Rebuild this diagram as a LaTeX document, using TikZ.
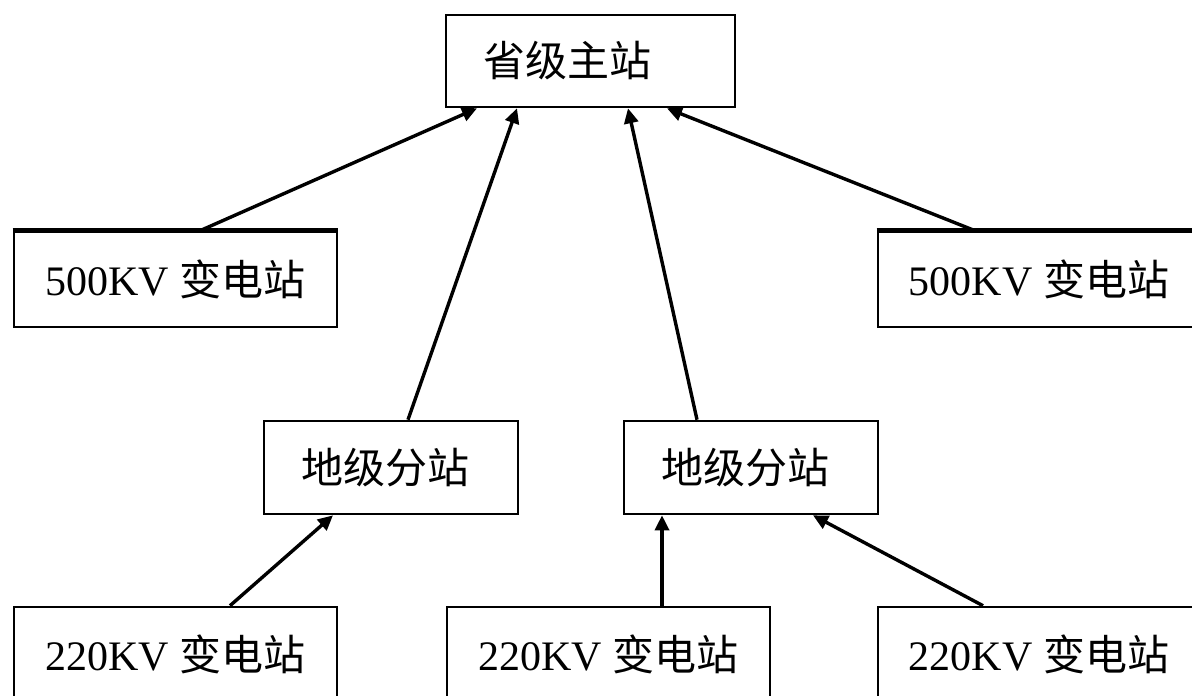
\documentclass[tikz,border=0pt]{standalone}
\usepackage{fontspec}
\setmainfont{Liberation Serif}
\newfontfamily\cjk{Noto Sans CJK SC}
\usetikzlibrary{arrows.meta}
\begin{document}
\begin{tikzpicture}[x=0.5pt,y=-0.5pt,
  box/.style={draw, line width=1.3pt, inner sep=0pt, font=\fontsize{21pt}{24pt}\selectfont},
  leftbox/.style={box, inner xsep=18.5pt, text width=#1, align=left},
  topedge/.style={line width=2.6pt},
  conn/.style={line width=1.7pt, -{Triangle[length=7.5pt,width=7pt]}}]
\useasboundingbox (0,0) rectangle (1192,695);
\fill[white] (0,0) rectangle (1192,695);
% nodes
\node[leftbox=107.5pt, minimum height=46pt] (top) at (590.5,61) {\cjk 省级主站};
\node[box, minimum width=161.5pt, minimum height=47.5pt] (l500) at (175.5,279.5) {500KV {\cjk 变电站}};
\node[box, minimum width=161pt, minimum height=47.5pt] (r500) at (1039,279.5) {500KV {\cjk 变电站}};
\node[leftbox=90pt, minimum height=46.5pt] (dl) at (391,467.5) {\cjk 地级分站};
\node[leftbox=90pt, minimum height=46.5pt] (dr) at (751,467.5) {\cjk 地级分站};
\node[box, minimum width=161.5pt, minimum height=47.5pt] (bl) at (175.5,654.5) {220KV {\cjk 变电站}};
\node[box, minimum width=161.5pt, minimum height=47.5pt] (bm) at (608.5,654.5) {220KV {\cjk 变电站}};
\node[box, minimum width=161pt, minimum height=47.5pt] (br) at (1039,654.5) {220KV {\cjk 变电站}};
% thick top edges
\draw[topedge] (l500.north west) -- (l500.north east);
\draw[topedge] (r500.north west) -- (r500.north east);
% connectors
\draw[conn] ([xshift=12.25pt]l500.north) -- ([xshift=-56.75pt]top.south);
\draw[conn] ([xshift=8.5pt]dl.north) -- ([xshift=-36.75pt]top.south);
\draw[conn] ([xshift=-27pt]dr.north) -- ([xshift=18.75pt]top.south);
\draw[conn] ([xshift=-32pt]r500.north) -- ([xshift=38.25pt]top.south);
\draw[conn] ([xshift=27.25pt]bl.north) -- ([xshift=-29pt]dl.south);
\draw[conn] ([xshift=26.75pt]bm.north) -- ([xshift=-44.5pt]dr.south);
\draw[conn] ([xshift=-28pt]br.north) -- ([xshift=31pt]dr.south);
\end{tikzpicture}
\end{document}
